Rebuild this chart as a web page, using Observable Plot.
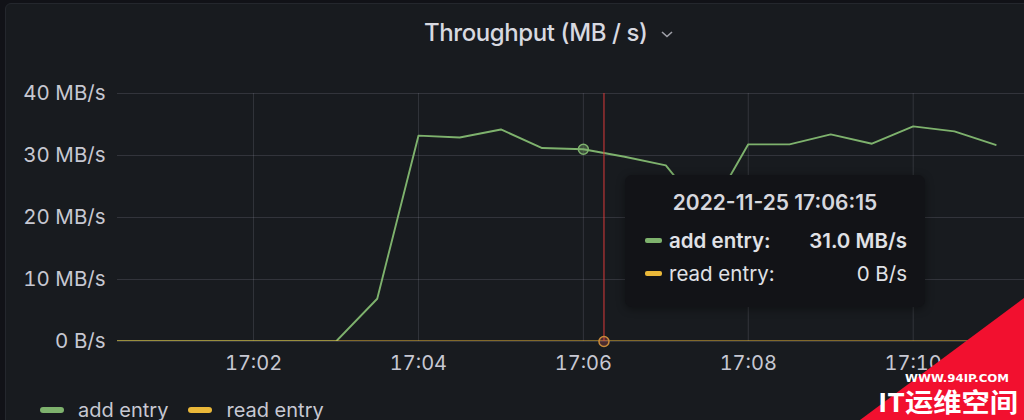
<!DOCTYPE html>
<html>
<head>
<meta charset="utf-8">
<script src="https://cdn.jsdelivr.net/npm/d3@7"></script>
<script src="https://cdn.jsdelivr.net/npm/@observablehq/plot@0.6"></script>
<style>
  html, body { margin: 0; padding: 0; background: #111217; width: 1024px; height: 420px; overflow: hidden; }
  #panel { position: absolute; left: 5px; top: 3px; width: 1030px; height: 430px; background: #181b1f;
           border: 1px solid #24272d; border-radius: 6px; }
  #root { position: absolute; left: 0; top: 0; width: 1024px; height: 420px; font-family: Inter, Roboto, sans-serif; }
  #title { position: absolute; left: 424px; top: 0; height: 60px; white-space: nowrap; color: #d8d9e0;
           font-size: 24px; font-weight: 500; line-height: 66px; letter-spacing: -0.4px; }
  #title svg { vertical-align: middle; margin-left: 12px; }
  #chart { position: absolute; left: 0; top: 60px; }
  #legend { position: absolute; left: 40px; top: 398px; display: flex; align-items: center; color: #c7c8d2; font-size: 20px; }
  .sw { width: 24px; height: 6px; border-radius: 3px; margin-right: 14px; }
  .li { display: flex; align-items: center; margin-right: 20px; }
  #tip { position: absolute; left: 625px; top: 175px; width: 300px; height: 132px; background: #121317;
         border-radius: 7px; box-shadow: 0 2px 8px rgba(0,0,0,0.4); color: #e0e1e6; }
  #tipTitle { position: absolute; left: 0; width: 300px; top: 15px; text-align: center; font-size: 21px; font-weight: 600; color: #d6d7de; }
  .row { position: absolute; left: 20px; width: 262px; display: flex; align-items: center; font-size: 20.5px; }
  .row .d { width: 17px; height: 5px; border-radius: 2px; margin-right: 7px; }
  .row .v { margin-left: auto; }
  #wm { position: absolute; left: 0; top: 0; }
</style>
</head>
<body>
<div id="panel"></div>
<div id="root">
  <div id="title"></div>
  <div id="chart"></div>
  <div id="legend"></div>
  <div id="tip"></div>
  <svg id="wm" width="1024" height="420"></svg>
</div>
<script>
// ---- data ----
const titleText = "Throughput (MB / s)";
const seriesNames = ["add entry", "read entry"];
const seriesColors = ["#7EB26D", "#EAB839"];
const times = ["17:00:00","17:00:30","17:01:00","17:01:30","17:02:00","17:02:30","17:03:00","17:03:30",
               "17:04:00","17:04:30","17:05:00","17:05:30","17:06:00","17:06:30","17:07:00","17:07:30",
               "17:08:00","17:08:30","17:09:00","17:09:30","17:10:00","17:10:30","17:11:00"];
const addEntry = [0,0,0,0,0,0,0,6.9, 33.2,32.9,34.2,31.2,31.0,29.8,28.4,20.2, 31.8,31.8,33.4,31.9,34.7,33.9,31.7];
const readTimes = ["17:00:00","17:11:30"];
const readEntry = [0, 0];
const yTicks = [0, 10, 20, 30, 40];
const xTicks = ["17:02","17:04","17:06","17:08","17:10"];
const xDomain = ["17:00:21", "17:11:21"];
const hoverTime = "17:06:15";
const hoverDate = "2022-11-25";
const hoverSnap = "17:06:00";
const watermarkUrl = "WWW.94IP.COM";
const watermarkName = "IT运维空间";

// ---- helpers ----
const T = s => new Date(`${hoverDate}T${s.length === 5 ? s + ":00" : s}Z`);
const fmtY = v => v === 0 ? "0 B/s" : `${v} MB/s`;
const addData = times.map((t, i) => ({time: T(t), value: addEntry[i]}));
const readData = readTimes.map((t, i) => ({time: T(t), value: readEntry[i]}));
const snapIdx = times.indexOf(hoverSnap);

// title
document.getElementById("title").innerHTML = `${titleText}<svg width="14" height="10" viewBox="0 0 14 10"><polyline points="2,3 7,7.5 12,3" fill="none" stroke="#9fa0a8" stroke-width="1.6"/></svg>`;

const chart = Plot.plot({
  width: 1024,
  height: 321,
  marginLeft: 117,
  marginRight: 0,
  marginTop: 33,
  marginBottom: 40,
  style: {background: "transparent", color: "#c7c8d2", fontFamily: "Inter, Roboto, sans-serif", fontSize: "20.5px", overflow: "visible"},
  x: {type: "utc", domain: xDomain.map(T)},
  y: {domain: [0, 40]},
  marks: [
    Plot.gridY(yTicks, {stroke: "#ccccdc", strokeOpacity: 0.15, strokeWidth: 1}),
    Plot.gridX(xTicks.map(T), {stroke: "#ccccdc", strokeOpacity: 0.15, strokeWidth: 1}),
    Plot.axisY(yTicks, {tickSize: 0, tickPadding: 12, tickFormat: fmtY, fontSize: 20.5, label: null}),
    Plot.axisX(xTicks.map(T), {tickSize: 0, tickPadding: 14, tickFormat: d3.utcFormat("%H:%M"), fontSize: 20, label: null}),
    Plot.line(addData, {x: "time", y: "value", stroke: seriesColors[0], strokeWidth: 1.9, clip: true}),
    Plot.line(readData, {x: "time", y: "value", stroke: seriesColors[1], strokeWidth: 2, clip: true}),
    Plot.ruleX([T(hoverTime)], {stroke: "#d93a3a", strokeWidth: 1}),
    Plot.dot([addData[snapIdx]], {x: "time", y: "value", r: 5, stroke: seriesColors[0], strokeWidth: 1.5, fill: seriesColors[0], fillOpacity: 0.35}),
    Plot.dot([{time: T(hoverTime), value: readEntry[0]}], {x: "time", y: "value", r: 5, stroke: "#c98a3a", strokeWidth: 1.5, fill: "#e05a5a", fillOpacity: 0.25})
  ]
});
document.getElementById("chart").append(chart);

// legend
document.getElementById("legend").innerHTML = seriesNames.map((n, i) =>
  `<div class="li"><div class="sw" style="background:${seriesColors[i]}"></div>${n}</div>`).join("");

// tooltip
const vals = [`${addEntry[snapIdx].toFixed(1)} MB/s`, fmtY(readEntry[0])];
document.getElementById("tip").innerHTML =
  `<div id="tipTitle">${hoverDate} ${hoverTime}</div>` +
  seriesNames.map((n, i) => `<div class="row" style="top:${53 + i * 33}px;font-weight:${i === 0 ? 600 : 400}">
     <div class="d" style="background:${seriesColors[i]}"></div><span>${n}:</span><span class="v">${vals[i]}</span></div>`).join("");

// watermark
document.getElementById("wm").innerHTML =
  `<polygon points="1024,298 1024,420 860,420" fill="#f2102f"/>
   <text x="957" y="382" text-anchor="middle" fill="#fff" font-family="'DejaVu Sans Condensed', 'DejaVu Sans'" font-weight="bold" font-size="11" textLength="104" lengthAdjust="spacingAndGlyphs">${watermarkUrl}</text>
   <text x="948" y="412" text-anchor="middle" fill="#fff" font-family="'Noto Sans CJK SC'" font-weight="bold" font-size="26" textLength="140" lengthAdjust="spacingAndGlyphs">${watermarkName}</text>`;
</script>
</body>
</html>
